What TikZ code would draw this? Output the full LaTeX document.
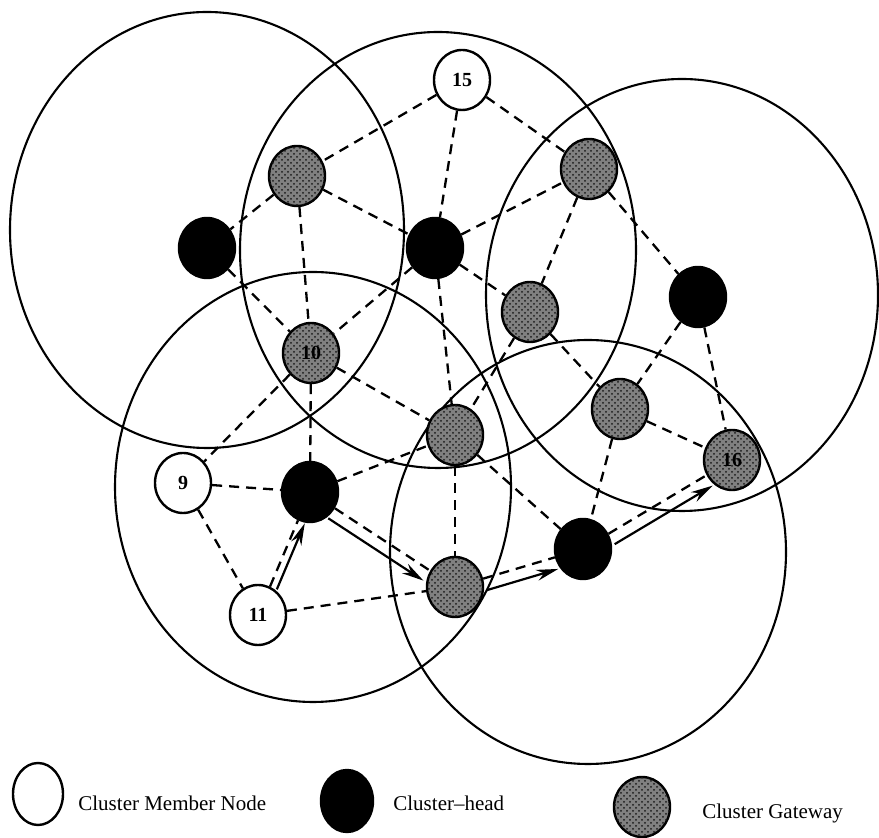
\documentclass[tikz,border=0pt]{standalone}
\usepackage{fontspec}
\setmainfont{Liberation Serif}
\usetikzlibrary{positioning, arrows.meta, shapes.geometric, patterns}

\begin{document}
\begin{tikzpicture}[
		x=0.5pt, y=-0.5pt,
		>=Stealth,
		cluster/.style={line width=1.05pt},
		member/.style={draw, ellipse, line width=1.2pt, fill=white, minimum width=28pt, minimum height=30pt, inner sep=0pt, font=\bfseries\fontsize{10}{12}\selectfont},
		head/.style={member, fill=black},
		gateway/.style={member, fill=black!50, postaction={pattern=crosshatch dots, pattern color=black!90}},
		link/.style={dash pattern=on 5pt off 3.5pt, line width=1.15pt},
		flow/.style={-{Stealth[length=11pt, width=5.5pt]}, line width=1.1pt},
		legtext/.style={anchor=west, inner sep=1pt, font=\fontsize{10.5}{12}\selectfont}
		]
		\useasboundingbox (0,0) rectangle (879,838);
		
		% cluster ranges
		\draw[cluster] (207,230) ellipse [x radius=98.5pt, y radius=109pt];
		\draw[cluster] (438,250) ellipse [x radius=99pt, y radius=109pt];
		\draw[cluster] (682,295) ellipse [x radius=98pt, y radius=108pt];
		\draw[cluster] (313,487) ellipse [x radius=99pt, y radius=107.5pt];
		\draw[cluster] (588,552) ellipse [x radius=99pt, y radius=106pt];
		
		% member nodes
		\node[member] (m15) at (462,80) {15};
		\node[member] (m9) at (183,483) {9};
		\node[member] (m11) at (258,615) {11};
		
		% cluster-heads
		\node[head] (hL) at (207,248) {};
		\node[head] (hC) at (435,248) {};
		\node[head] (hR) at (698,297) {};
		\node[head] (hCL) at (310,492) {};
		\node[head] (h17) at (583,549) {};
		
		% gateways
		\node[gateway] (g12) at (297,176) {};
		\node[gateway] (g13) at (589,169) {};
		\node[gateway] (g8) at (530,312) {};
		\node[gateway] (g10) at (311,353) {10};
		\node[gateway] (g14) at (455,435) {};
		\node[gateway] (g2) at (620,409) {};
		\node[gateway] (g16) at (732,460) {16};
		\node[gateway] (gB) at (455,587) {};
		
		% links
		\draw[link] (m15) -- (g12);
		\draw[link] (m15) -- (hC);
		\draw[link] (m15) -- (g13);
		\draw[link] (g12) -- (hL);
		\draw[link] (g12) -- (hC);
		\draw[link] (g12) -- (g10);
		\draw[link] (hL) -- (g10);
		\draw[link] (hC) -- (g10);
		\draw[link] (hC) -- (g13);
		\draw[link] (hC) -- (g8);
		\draw[link] (hC) -- (g14);
		\draw[link] (g13) -- (g8);
		\draw[link] (g13) -- (hR);
		\draw[link] (hR) -- (g2);
		\draw[link] (hR) -- (g16);
		\draw[link] (g8) -- (g2);
		\draw[link] (g8) -- (g14);
		\draw[link] (g2) -- (g16);
		\draw[link] (g2) -- (h17);
		\draw[link] (g10) -- (m9);
		\draw[link] (g10) -- (hCL);
		\draw[link] (g10) -- (g14);
		\draw[link] (m9) -- (hCL);
		\draw[link] (m9) -- (m11);
		\draw[link] (m11) -- (hCL);
		\draw[link] (m11) -- (gB);
		\draw[link] (hCL) -- (g14);
		\draw[link] (hCL) -- (gB);
		\draw[link] (g14) -- (gB);
		\draw[link] (g14) -- (h17);
		\draw[link] (gB) -- (h17);
		\draw[link] (h17) -- (g16);
		
		% route
		\draw[flow, transform canvas={shift={(3.4pt,-1.4pt)}}] (m11) -- (hCL);
		\draw[flow, transform canvas={shift={(-3.3pt,-5pt)}}] (hCL) -- (gB);
		\draw[flow, transform canvas={shift={(1.7pt,-5.8pt)}}] (gB) -- (h17);
		\draw[flow, transform canvas={shift={(3.1pt,-5.2pt)}}] (h17) -- (g16);
		
		% legend
		\node[member, minimum width=25pt, minimum height=31pt] (lgmember) at (38,794) {};
		\node[legtext] (lgmembertxt) at (76,803) {Cluster Member Node};
		\node[head, minimum width=26pt, minimum height=31pt] (lghead) at (347,801) {};
		\node[legtext] (lgheadtxt) at (391,803) {Cluster--head};
		\node[gateway, minimum width=28pt, minimum height=30pt] (lggate) at (642,807) {};
		\node[legtext] (lggatetxt) at (700,813) {Cluster Gateway};
		
	\end{tikzpicture}
\end{document}
